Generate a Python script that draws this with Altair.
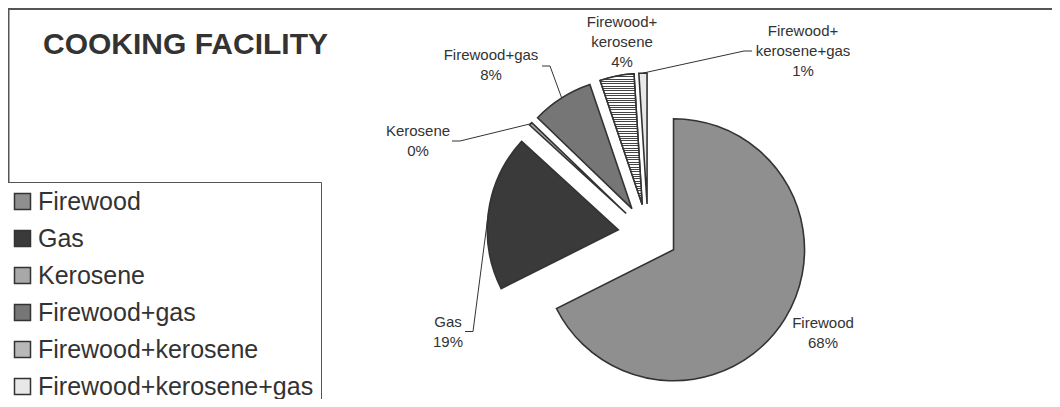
import altair as alt
import pandas as pd

# ---------------- data ----------------
categories = ["Firewood", "Gas", "Kerosene", "Firewood+gas",
              "Firewood+kerosene", "Firewood+kerosene+gas"]
shares = [67.6, 19.2, 0.4, 7.6, 4.2, 1.0]
title_text = ["COOKING FACILITY"]

# ---------------- style / layout ----------------
fills = ["#8f8f8f", "#3a3a3a", "#a8a8a8", "#767676", "#b8b8b8", "#e8e8e8"]
W, H = 1044, 391
CX, CY = 640, 226      # pie centre (chart pixels)
R = 131                # pie radius
EXPLODE = 30           # slice explosion distance
FONT = "Liberation Sans"
INK = "#333333"
LH = 20                # label line height

# horizontal-line hatch for the Firewood+kerosene slice
n_stripes = 55
stops = []
for k in range(n_stripes):
    a = k / n_stripes
    b = (k + 0.42) / n_stripes
    c = (k + 1) / n_stripes
    stops += [{"offset": a, "color": "#444444"}, {"offset": b, "color": "#444444"},
              {"offset": b, "color": "#ffffff"}, {"offset": c, "color": "#ffffff"}]
hatch_h = {"gradient": "linear", "x1": 0, "y1": 0, "x2": 0, "y2": 1, "stops": stops}

# label block centres, and leader-line anchor at the label (x, y, side)
label_layout = {
    "Firewood": (815, 325, None),
    "Gas": (440, 323.5, (457, 323.5, 1)),
    "Kerosene": (410, 132.5, (444, 133, 1)),
    "Firewood+gas": (483, 57, (534, 58, 1)),
    "Firewood+kerosene": (614, 34.3, None),
    "Firewood+kerosene+gas": (795, 42.7, (744, 43, -1)),
}

rows = []
for i, (c, v) in enumerate(zip(categories, shares)):
    lx, ly, lead = label_layout[c]
    lname = c.replace("+", "+|", 1) if len(c) > 14 else c
    rows.append(dict(cat=c, value=v, order=i, lname=lname, lx=lx, ly=ly,
                     cxl=lead[0] if lead else 0, cyl=lead[1] if lead else 0,
                     side=lead[2] if lead else 0))
df = pd.DataFrame(rows)

base = (
    alt.Chart(df)
    .transform_window(cum="sum(value)", sort=[alt.SortField("order")], frame=[None, 0])
    .transform_joinaggregate(total="sum(value)")
    .transform_calculate(
        t1="2*PI*(datum.cum - datum.value)/datum.total",
        t2="2*PI*datum.cum/datum.total",
        txt="split(datum.lname + '|' + format(datum.value/100, '.0%'), '|')",
    )
    .transform_calculate(tm="(datum.t1 + datum.t2)/2",
                         ly0=f"datum.ly - (length(datum.txt) - 1)*{LH / 2}")
    .transform_calculate(
        px=f"{CX} + {EXPLODE}*sin(datum.tm)",
        py=f"{CY} - {EXPLODE}*cos(datum.tm)",
        ax=f"{CX} + {EXPLODE + R}*sin(datum.tm)",
        ay=f"{CY} - {EXPLODE + R}*cos(datum.tm)",
        bx="datum.cxl + 8*datum.side",
    )
)

arc_enc = dict(
    theta=alt.Theta("t1:Q", scale=None, stack=None),
    theta2="t2:Q",
    x=alt.X("px:Q", scale=None),
    y=alt.Y("py:Q", scale=None),
)

pie = base.mark_arc(radius=R, stroke=INK, strokeWidth=1.6).encode(
    fill=alt.Fill(
        "cat:N",
        scale=alt.Scale(domain=categories, range=fills),
        legend=alt.Legend(
            orient="none", legendX=-5, legendY=174, title=None,
            symbolType="square", symbolSize=256, symbolStrokeColor=INK,
            symbolStrokeWidth=1.5, symbolOpacity=1,
            labelFont=FONT, labelFontSize=25, labelColor=INK, labelLimit=600,
            labelOffset=3, rowPadding=11, padding=7,
            strokeColor="#555555", fillColor="white", direction="vertical",
        ),
    ),
    **arc_enc,
)

hatched = base.transform_filter("datum.cat == 'Firewood+kerosene'").mark_arc(
    radius=R, stroke=INK, strokeWidth=1.6, fill=hatch_h
).encode(**arc_enc)

labels = base.mark_text(
    font=FONT, fontSize=15, lineHeight=LH, color=INK, align="center", baseline="middle"
).encode(
    x=alt.X("lx:Q", scale=None),
    y=alt.Y("ly0:Q", scale=None),
    text="txt:N",
)

leaders = base.transform_filter("datum.side != 0")
lead1 = leaders.mark_rule(color=INK, strokeWidth=1).encode(
    x=alt.X("ax:Q", scale=None), y=alt.Y("ay:Q", scale=None),
    x2="bx:Q", y2="cyl:Q",
)
lead2 = leaders.mark_rule(color=INK, strokeWidth=1).encode(
    x=alt.X("bx:Q", scale=None), y=alt.Y("cyl:Q", scale=None),
    x2="cxl:Q", y2="cyl:Q",
)

one = pd.DataFrame({"t": title_text})
title = alt.Chart(one).mark_text(
    font=FONT, fontSize=30, fontWeight="bold", color=INK, align="left", baseline="middle"
).encode(x=alt.value(35), y=alt.value(37), text="t:N")

frame_top = alt.Chart(one).mark_rule(color="#555555", strokeWidth=2).encode(
    x=alt.value(0), x2=alt.value(W), y=alt.value(1))
frame_left = alt.Chart(one).mark_rule(color="#555555", strokeWidth=1.5).encode(
    x=alt.value(0.75), y=alt.value(0), y2=alt.value(H))

chart = (
    alt.layer(pie, hatched, lead1, lead2, labels, title, frame_top, frame_left)
    .properties(width=W, height=H, padding=0, autosize="none", background="white")
    .configure_view(stroke=None)
)

chart.save("out.html", embed_options={"renderer": "svg", "actions": False})
